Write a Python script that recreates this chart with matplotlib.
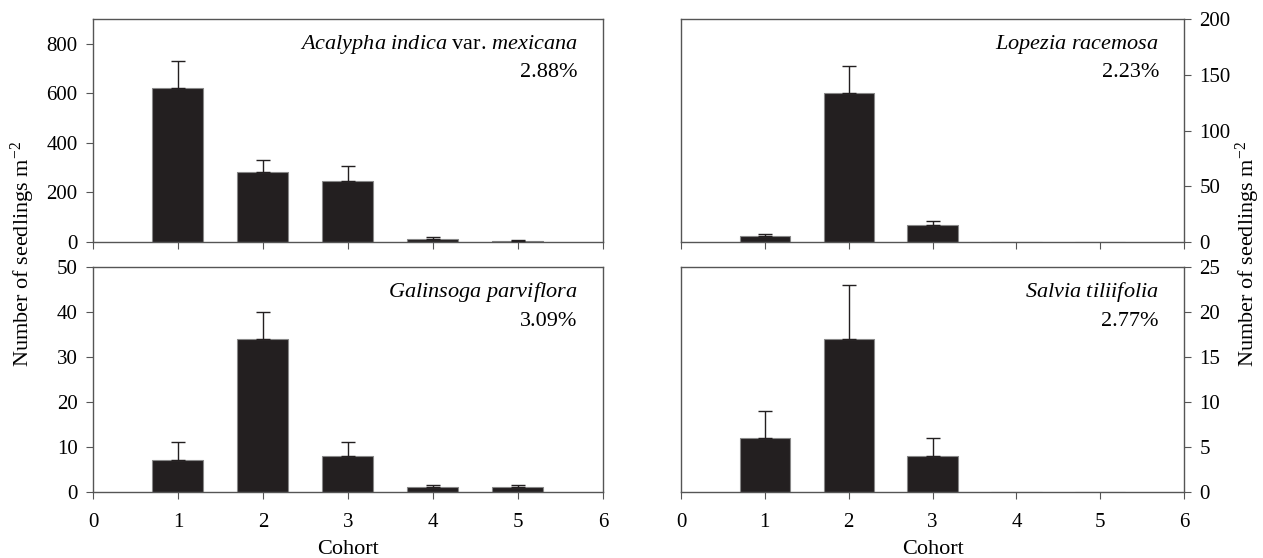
import numpy as np
import matplotlib.pyplot as plt

plt.rcParams['font.family'] = 'Liberation Serif'
plt.rcParams['mathtext.fontset'] = 'custom'
plt.rcParams['mathtext.rm'] = 'Liberation Serif'
plt.rcParams['mathtext.it'] = 'Liberation Serif:italic'

cohorts = [1, 2, 3, 4, 5]

acalypha = [621, 281, 245, 12, 4]
acalypha_err = [109, 52, 61, 7, 3]

lopezia = [5, 134, 15, 0, 0]
lopezia_err = [2, 24, 4, 0, 0]

galinsoga = [7, 34, 8, 1, 1]
galinsoga_err = [4, 6, 3, 0.5, 0.5]

salvia = [6, 17, 4, 0, 0]
salvia_err = [3, 6, 2, 0, 0]

panels = [
    (acalypha, acalypha_err, r'$\mathit{Acalypha\ indica}$ var. $\mathit{mexicana}$', '2.88%', 900, [0, 200, 400, 600, 800]),
    (lopezia, lopezia_err, r'$\mathit{Lopezia\ racemosa}$', '2.23%', 200, [0, 50, 100, 150, 200]),
    (galinsoga, galinsoga_err, r'$\mathit{Galinsoga\ parviflora}$', '3.09%', 50, [0, 10, 20, 30, 40, 50]),
    (salvia, salvia_err, r'$\mathit{Salvia\ tiliifolia}$', '2.77%', 25, [0, 5, 10, 15, 20, 25]),
]

fig = plt.figure(figsize=(12.63, 5.58), dpi=100)
boxes = [
    [0.0736, 0.5663, 0.4038, 0.3996],
    [0.5392, 0.5663, 0.3983, 0.3996],
    [0.0736, 0.1183, 0.4038, 0.4032],
    [0.5392, 0.1183, 0.3983, 0.4032],
]

spine_col = '#555555'
for i, (vals, errs, name, pct, ymax, yt) in enumerate(panels):
    ax = fig.add_axes(boxes[i])
    ax.bar(cohorts, vals, width=0.6, color='#231f20', edgecolor='#888888',
           linewidth=0.8, zorder=2)
    # error bars only above bars that exist
    xe = [c for c, v in zip(cohorts, vals) if v > 0]
    ve = [v for v in vals if v > 0]
    ee = [e for e, v in zip(errs, vals) if v > 0]
    ax.errorbar(xe, ve, yerr=[np.zeros(len(ee)), ee], fmt='none',
                ecolor='#231f20', elinewidth=1, capsize=5, capthick=1, zorder=3)
    ax.set_xlim(0, 6)
    ax.set_ylim(0, ymax)
    ax.set_yticks(yt)
    ax.set_xticks(range(7))
    for s in ax.spines.values():
        s.set_color(spine_col)
        s.set_linewidth(1)
    ax.tick_params(direction='out', length=5, color=spine_col, labelsize=15)
    ax.tick_params(axis='x', pad=10)
    ax.tick_params(axis='y', pad=6)
    if i in (1, 3):
        ax.yaxis.tick_right()
    if i < 2:
        ax.tick_params(axis='x', labelbottom=False)
    else:
        ax.set_xlabel('Cohort', fontsize=16, labelpad=6)
    ax.text(0.95, 0.888, name, transform=ax.transAxes, ha='right', va='center', fontsize=16)
    ax.text(0.95, 0.758, pct, transform=ax.transAxes, ha='right', va='center', fontsize=16)

fig.text(0.018, 0.545, 'Number of seedlings m$^{-2}$', rotation=90, ha='center', va='center', fontsize=16)
fig.text(0.988, 0.545, 'Number of seedlings m$^{-2}$', rotation=90, ha='center', va='center', fontsize=16)

fig.savefig('out.png', dpi=100)
